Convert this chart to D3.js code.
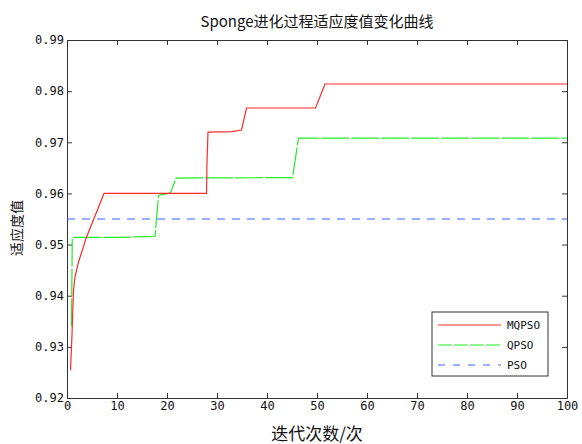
<!DOCTYPE html>
<html>
<head>
<meta charset="utf-8">
<script src="https://cdn.jsdelivr.net/npm/d3@7"></script>
<style>
  body { margin: 0; background: #fff; }
  svg { display: block; }
</style>
</head>
<body>
<div id="chart"></div>
<script>
// data (breakpoints of each curve)
const mqpsoIter = [0.7, 1.0, 1.3, 1.6, 2.3, 3.3, 3.8, 7.4, 27.9, 28.0, 28.2, 33.0, 34.9, 35.9, 49.7, 51.6, 100];
const mqpsoFit  = [0.9254, 0.9324, 0.9411, 0.9437, 0.9466, 0.9496, 0.9512, 0.9600, 0.9600, 0.9660, 0.9720, 0.9721, 0.9724, 0.9767, 0.9767, 0.9814, 0.9814];

const qpsoIter = [0.9, 1.05, 10.0, 17.6, 18.3, 20.7, 21.8, 45.1, 46.3, 100];
const qpsoFit  = [0.9340, 0.9514, 0.9514, 0.9516, 0.9596, 0.9601, 0.9630, 0.9631, 0.9708, 0.9708];

const psoIter = [0, 100];
const psoFit  = [0.955, 0.955];

const xTicks = [0, 10, 20, 30, 40, 50, 60, 70, 80, 90, 100];
const yTicks = [0.92, 0.93, 0.94, 0.95, 0.96, 0.97, 0.98, 0.99];

const seriesNames = ['MQPSO', 'QPSO', 'PSO'];

const W = 582, H = 444;
const plot = { left: 67, right: 567, top: 40, bottom: 398 };

const svg = d3.select('#chart')
  .append('svg')
  .attr('width', W)
  .attr('height', H);

const x = d3.scaleLinear().domain([0, 100]).range([plot.left, plot.right]);
const y = d3.scaleLinear().domain([0.92, 0.99]).range([plot.bottom, plot.top]);

const monoFont = 'DejaVu Sans Mono, Liberation Mono, monospace';
const cjkFont = '"Noto Sans CJK SC", "Noto Sans", sans-serif';
const axisColor = '#333';

// axes, matlab style box with inward ticks
svg.append('g')
  .attr('transform', `translate(0,${plot.bottom})`)
  .call(d3.axisBottom(x).tickValues(xTicks).tickSizeInner(-5).tickSizeOuter(0).tickPadding(3))
  .call(g => g.selectAll('text').attr('font-family', monoFont).attr('font-size', 12).attr('fill', '#111'));

svg.append('g')
  .attr('transform', `translate(${plot.left},0)`)
  .call(d3.axisLeft(y).tickValues(yTicks).tickFormat(d3.format('.2f')).tickSizeInner(-5).tickSizeOuter(0).tickPadding(3))
  .call(g => g.selectAll('text').attr('font-family', monoFont).attr('font-size', 12).attr('fill', '#111'));

svg.append('g')
  .attr('transform', `translate(0,${plot.top})`)
  .call(d3.axisTop(x).tickValues(xTicks).tickSizeInner(-5).tickSizeOuter(0).tickFormat(''));

svg.append('g')
  .attr('transform', `translate(${plot.right},0)`)
  .call(d3.axisRight(y).tickValues(yTicks).tickSizeInner(-5).tickSizeOuter(0).tickFormat(''));

svg.selectAll('.domain, .tick line').attr('stroke', axisColor);

// curves
const line = d3.line()
  .x(d => x(d[0]))
  .y(d => y(d[1]));

const zip = (a, b) => a.map((v, i) => [v, b[i]]);

svg.append('path')
  .datum(zip(psoIter, psoFit))
  .attr('fill', 'none')
  .attr('stroke', '#3366ff')
  .attr('stroke-width', 1.2)
  .attr('stroke-dasharray', '8,7')
  .attr('d', line);

svg.append('path')
  .datum(zip(qpsoIter, qpsoFit))
  .attr('fill', 'none')
  .attr('stroke', '#22ee22')
  .attr('stroke-width', 1.2)
  .attr('stroke-dasharray', '28,2')
  .attr('d', line);

svg.append('path')
  .datum(zip(mqpsoIter, mqpsoFit))
  .attr('fill', 'none')
  .attr('stroke', '#ff2a2a')
  .attr('stroke-width', 1.2)
  .attr('d', line);

// legend
const legend = svg.append('g').attr('transform', 'translate(432,312)');
legend.append('rect')
  .attr('width', 116)
  .attr('height', 64)
  .attr('fill', '#fff')
  .attr('stroke', axisColor);

const legendStyle = [
  { color: '#ff2a2a', dash: null },
  { color: '#22ee22', dash: '14,2' },
  { color: '#3366ff', dash: '7,8' },
];

seriesNames.forEach((name, i) => {
  const ly = 13 + i * 20;
  legend.append('line')
    .attr('x1', 6).attr('x2', 69)
    .attr('y1', ly).attr('y2', ly)
    .attr('stroke', legendStyle[i].color)
    .attr('stroke-width', 1.2)
    .attr('stroke-dasharray', legendStyle[i].dash);
  legend.append('text')
    .attr('x', 75)
    .attr('y', ly + 4)
    .attr('font-family', monoFont)
    .attr('font-size', 11)
    .attr('fill', '#111')
    .text(name);
});

// title and axis labels
svg.append('text')
  .attr('x', (plot.left + plot.right) / 2)
  .attr('y', 27)
  .attr('text-anchor', 'middle')
  .attr('font-family', cjkFont)
  .attr('font-size', 15)
  .attr('fill', '#111')
  .text('Sponge进化过程适应度值变化曲线');

svg.append('text')
  .attr('x', (plot.left + plot.right) / 2)
  .attr('y', 440)
  .attr('text-anchor', 'middle')
  .attr('font-family', cjkFont)
  .attr('font-size', 17)
  .attr('fill', '#111')
  .text('迭代次数/次');

svg.append('text')
  .attr('transform', 'translate(22,228) rotate(-90)')
  .attr('text-anchor', 'middle')
  .attr('font-family', cjkFont)
  .attr('font-size', 14)
  .attr('fill', '#111')
  .text('适应度值');
</script>
</body>
</html>
